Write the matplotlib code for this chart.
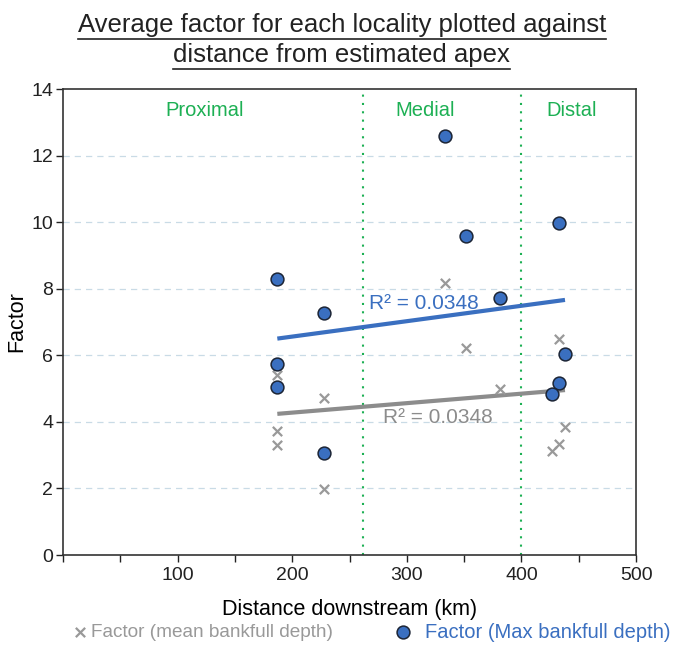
import numpy as np
import matplotlib
matplotlib.use('Agg')
import matplotlib.pyplot as plt
from matplotlib.lines import Line2D

plt.rcParams['font.family'] = ['Liberation Sans', 'DejaVu Sans']

# distance downstream (km) and factor values
dist = [187, 187, 187, 228, 228, 333, 352, 381, 433, 438, 433, 427]
factor_max = [8.28, 5.73, 5.05, 7.28, 3.05, 12.58, 9.57, 7.73, 9.97, 6.03, 5.17, 4.85]
factor_mean = [5.42, 3.73, 3.30, 4.72, 1.98, 8.18, 6.22, 5.00, 6.48, 3.85, 3.35, 3.13]

zone_names = ['Proximal', 'Medial', 'Distal']
zone_label_x = [124, 316, 444]
zone_bounds = [262, 400]
r2_text = 'R² = 0.0348'

blue = '#3a6fc0'
gray = '#8c8c8c'
green = '#1db054'

fig = plt.figure(figsize=(6.81, 6.45), dpi=100)
ax = fig.add_axes([0.0925, 0.1395, 0.8415, 0.7225])

ax.set_xlim(0, 500)
ax.set_ylim(0, 14)

# dashed horizontal gridlines
for yv in range(2, 14, 2):
    ax.axhline(yv, color='#c9dbe6', lw=0.9, ls=(0, (5, 4)), zorder=0)

# zone boundaries
for xb in zone_bounds:
    ax.axvline(xb, color=green, lw=1.5, ls=(0, (1, 3)), zorder=1)
for name, xl in zip(zone_names, zone_label_x):
    ax.text(xl, 13.35, name, color=green, fontsize=14.5, ha='center', va='center')

# scatter series
h_mean = ax.scatter(dist, factor_mean, marker='x', s=45, color='#999999',
                    linewidths=1.6, zorder=3, label='Factor (mean bankfull depth)')
h_max = ax.scatter(dist, factor_max, marker='o', s=85, facecolor=blue,
                   edgecolor='#1c2535', linewidths=1.1, zorder=4,
                   label='Factor (Max bankfull depth)')

# linear trendlines
xs = np.array([min(dist), max(dist)])
for ys, col in [(factor_max, blue), (factor_mean, gray)]:
    k, b = np.polyfit(dist, ys, 1)
    ax.plot(xs, k * xs + b, color=col, lw=3, zorder=2, solid_capstyle='butt')

ax.text(315, 7.55, r2_text, color=blue, fontsize=15, ha='center', va='center', zorder=5)
ax.text(327, 4.12, r2_text, color=gray, fontsize=15, ha='center', va='center', zorder=5)

# ticks
xt = np.arange(0, 501, 50)
ax.set_xticks(xt)
ax.set_xticklabels([str(v) if v % 100 == 0 and v > 0 else '' for v in xt])
ax.set_yticks(np.arange(0, 15, 2))
ax.tick_params(direction='out', length=5, width=1, labelsize=14, colors='#222222')
ax.tick_params(axis='y', pad=2)
for sp in ax.spines.values():
    sp.set_color('#333333')
    sp.set_linewidth(1.2)

ax.set_xlabel('Distance downstream (km)', fontsize=15.5, labelpad=11)
ax.set_ylabel('Factor', fontsize=15.5)
ax.yaxis.set_label_coords(-0.062, 0.5)

# title with underline
t1 = fig.text(0.502, 0.950, 'Average factor for each locality plotted against',
              fontsize=18.5, ha='center', va='baseline', color='#222222')
t2 = fig.text(0.502, 0.904, 'distance from estimated apex',
              fontsize=18.5, ha='center', va='baseline', color='#222222')

# legends
leg1 = fig.legend(handles=[h_mean], loc='center left', bbox_to_anchor=(0.078, 0.02),
                  frameon=False, fontsize=13.7, handletextpad=0.1, handlelength=1,
                  labelcolor=['#999999'])
leg2 = fig.legend(handles=[h_max], loc='center left', bbox_to_anchor=(0.55, 0.02),
                  frameon=False, fontsize=14.5, handletextpad=0.6, handlelength=1,
                  labelcolor=[blue])

fig.canvas.draw()
r = fig.canvas.get_renderer()
inv = fig.transFigure.inverted()
for t, yu in [(t1, 0.9395), (t2, 0.8935)]:
    bb = t.get_window_extent(r)
    (x0, _), (x1, _) = inv.transform([[bb.x0, bb.y0], [bb.x1, bb.y1]])
    fig.add_artist(Line2D([x0, x1], [yu, yu], transform=fig.transFigure,
                          color='#222222', lw=1.2))

fig.savefig('out.png', dpi=100)
